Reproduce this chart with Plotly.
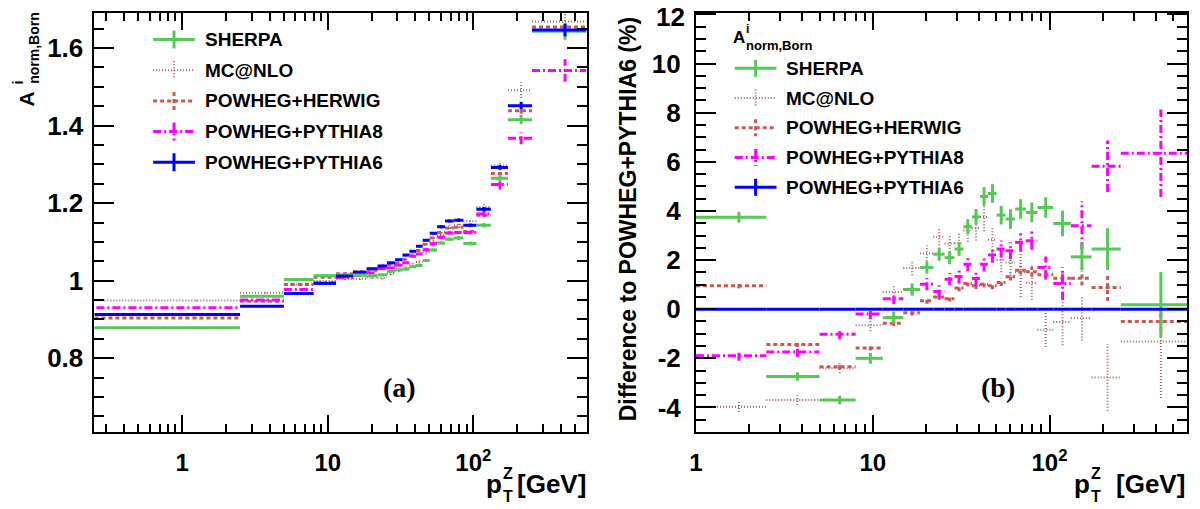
import math
import plotly.graph_objects as go

# ---------------- data ----------------
PT_EDGES = [0.0, 2.5, 5.0, 8.0, 11.4, 14.9, 18.5, 22.0, 25.5, 29.0, 32.6, 36.4, 40.4,
            44.9, 50.2, 56.4, 63.9, 73.4, 85.4, 105.0, 132.0, 173.0, 253.0, 600.0]
DIFF_FIRST_EDGE = 1.0  # first bin of panel (b) starts at 1 GeV

SERIES = ["SHERPA", "MC@NLO", "POWHEG+HERWIG", "POWHEG+PYTHIA8", "POWHEG+PYTHIA6"]

# panel (a): A^i_norm,Born
A_SHERPA = [0.879, 0.960, 1.003, 1.013, 1.015, 1.014, 1.013, 1.015, 1.024, 1.028, 1.030, 1.036,
            1.039, 1.052, 1.079, 1.097, 1.107, 1.110, 1.096, 1.143, 1.264, 1.415, 1.643]
A_MCNLO = [0.949, 0.969, 0.990, 0.999, 1.005, 1.005, 1.008, 1.007, 1.018, 1.026, 1.032, 1.040,
           1.048, 1.073, 1.100, 1.117, 1.137, 1.144, 1.153, 1.190, 1.297, 1.491, 1.668]
A_HERWIG = [0.904, 0.947, 0.990, 1.009, 1.018, 1.023, 1.027, 1.033, 1.041, 1.045, 1.055, 1.066,
            1.078, 1.094, 1.110, 1.124, 1.136, 1.138, 1.127, 1.169, 1.276, 1.438, 1.654]
A_PYTHIA8 = [0.930, 0.950, 0.977, 0.995, 1.008, 1.014, 1.020, 1.031, 1.033, 1.040, 1.046, 1.063,
             1.069, 1.080, 1.095, 1.112, 1.123, 1.124, 1.124, 1.172, 1.248, 1.367, 1.542]
A_PYTHIA6 = [0.913, 0.934, 0.967, 0.993, 1.012, 1.022, 1.031, 1.038, 1.046, 1.054, 1.066, 1.076,
             1.089, 1.104, 1.122, 1.139, 1.154, 1.156, 1.143, 1.184, 1.292, 1.451, 1.646]

A_ERR_SHERPA = [0.002, 0.002, 0.002, 0.002, 0.003, 0.003, 0.003, 0.003, 0.003, 0.003, 0.003, 0.003,
                0.004, 0.004, 0.004, 0.004, 0.004, 0.005, 0.005, 0.006, 0.008, 0.012, 0.022]
A_ERR_MCNLO = [0.002, 0.002, 0.002, 0.003, 0.003, 0.003, 0.003, 0.004, 0.004, 0.004, 0.005, 0.005,
               0.006, 0.006, 0.006, 0.006, 0.011, 0.008, 0.008, 0.011, 0.012, 0.020, 0.038]
A_ERR_HERWIG = [0.001, 0.001, 0.001, 0.001, 0.001, 0.001, 0.001, 0.001, 0.001, 0.001, 0.001, 0.001,
                0.001, 0.002, 0.002, 0.002, 0.002, 0.002, 0.002, 0.003, 0.004, 0.008, 0.007]
A_ERR_PYTHIA8 = [0.002, 0.002, 0.002, 0.002, 0.002, 0.002, 0.003, 0.003, 0.003, 0.003, 0.003, 0.003,
                 0.003, 0.004, 0.004, 0.004, 0.004, 0.004, 0.005, 0.008, 0.013, 0.015, 0.029]
A_ERR_PYTHIA6 = [0.002, 0.002, 0.002, 0.002, 0.002, 0.002, 0.002, 0.003, 0.003, 0.003, 0.003, 0.003,
                 0.003, 0.003, 0.003, 0.004, 0.004, 0.004, 0.004, 0.005, 0.006, 0.010, 0.016]

# panel (b): difference to POWHEG+PYTHIA6 (%)
D_SHERPA = [3.74, -2.74, -3.70, -2.00, -0.34, 0.80, 1.70, 2.24, 2.10, 2.45, 3.36, 3.76,
            4.59, 4.71, 3.83, 3.67, 4.08, 3.94, 4.14, 3.49, 2.13, 2.45, 0.18]
D_MCNLO = [-3.97, -3.70, -2.40, -0.65, 0.70, 1.68, 2.27, 2.95, 2.67, 2.70, 3.20, 3.30,
           3.75, 2.83, 2.00, 1.90, 1.50, 1.08, -0.84, -0.52, -0.37, -2.78, -1.32]
D_HERWIG = [0.95, -1.44, -2.34, -1.58, -0.57, -0.14, 0.34, 0.50, 0.43, 0.86, 1.05, 0.95,
            1.02, 0.95, 1.09, 1.32, 1.59, 1.52, 1.40, 1.26, 1.26, 0.88, -0.50]
D_PYTHIA8 = [-1.90, -1.74, -1.02, -0.20, 0.43, 0.80, 1.02, 0.72, 1.22, 1.33, 1.83, 1.25,
             1.83, 2.21, 2.45, 2.38, 2.72, 2.79, 1.70, 1.05, 3.40, 5.82, 6.35]
D_PYTHIA6 = [0.0, 0.0, 0.0, 0.0, 0.0, 0.0, 0.0, 0.0, 0.0, 0.0, 0.0, 0.0,
             0.0, 0.0, 0.0, 0.0, 0.0, 0.0, 0.0, 0.0, 0.0, 0.0, 0.0]

D_ERR_SHERPA = [0.22, 0.17, 0.17, 0.22, 0.24, 0.25, 0.25, 0.27, 0.27, 0.28, 0.30, 0.32,
                0.38, 0.38, 0.38, 0.40, 0.40, 0.40, 0.42, 0.52, 0.55, 0.85, 1.33]
D_ERR_MCNLO = [0.22, 0.20, 0.20, 0.25, 0.30, 0.30, 0.32, 0.35, 0.35, 0.40, 0.45, 0.50,
               0.58, 0.55, 0.50, 0.55, 1.00, 0.70, 0.70, 0.95, 0.90, 1.35, 2.30]
D_ERR_HERWIG = [0.10, 0.10, 0.10, 0.10, 0.12, 0.12, 0.12, 0.12, 0.12, 0.13, 0.13, 0.13,
                0.13, 0.14, 0.15, 0.15, 0.18, 0.20, 0.20, 0.25, 0.30, 0.55, 0.40]
D_ERR_PYTHIA8 = [0.20, 0.20, 0.20, 0.20, 0.22, 0.22, 0.25, 0.25, 0.25, 0.28, 0.28, 0.30,
                 0.30, 0.32, 0.35, 0.35, 0.37, 0.37, 0.45, 0.67, 1.00, 1.05, 1.78]
D_ERR_PYTHIA6 = [0.0] * 23

X_TICKS = [1, 10, 100]
X_TICK_TEXT = ["<b>1</b>", "<b>10</b>", "<b>10<sup>2</sup></b>"]
Y_TICKS_A = [0.8, 1.0, 1.2, 1.4, 1.6]
Y_TICK_TEXT_A = ["0.8", "1", "1.2", "1.4", "1.6"]
Y_TICKS_B = [-4, -2, 0, 2, 4, 6, 8, 10, 12]
Y_TICK_TEXT_B = ["-4", "-2", "0", "2", "4", "6", "8", "10", "12"]

# ---------------- style ----------------
W, H = 1200, 509
FONT = "Liberation Sans"
STYLE = {
    "SHERPA": dict(color="#55c855", dash="solid", width=3),
    "MC@NLO": dict(color="#9c6464", dash="1px,2px", width=2),
    "POWHEG+HERWIG": dict(color="#cc5555", dash="4px,3px", width=3),
    "POWHEG+PYTHIA8": dict(color="#ff00ff", dash="8px,3px,2px,3px", width=3),
    "POWHEG+PYTHIA6": dict(color="#0000ff", dash="solid", width=3),
}
A_DATA = {"SHERPA": (A_SHERPA, A_ERR_SHERPA), "MC@NLO": (A_MCNLO, A_ERR_MCNLO),
          "POWHEG+HERWIG": (A_HERWIG, A_ERR_HERWIG), "POWHEG+PYTHIA8": (A_PYTHIA8, A_ERR_PYTHIA8),
          "POWHEG+PYTHIA6": (A_PYTHIA6, A_ERR_PYTHIA6)}
D_DATA = {"SHERPA": (D_SHERPA, D_ERR_SHERPA), "MC@NLO": (D_MCNLO, D_ERR_MCNLO),
          "POWHEG+HERWIG": (D_HERWIG, D_ERR_HERWIG), "POWHEG+PYTHIA8": (D_PYTHIA8, D_ERR_PYTHIA8),
          "POWHEG+PYTHIA6": (D_PYTHIA6, D_ERR_PYTHIA6)}
DRAW_ORDER = ["MC@NLO", "POWHEG+HERWIG", "POWHEG+PYTHIA8", "SHERPA", "POWHEG+PYTHIA6"]


def fx(x):
    return x / W


def fy(y):
    return 1 - y / H


fig = go.Figure()


def add_hist(edges, vals, errs, st, xa, ya, lo_clip):
    hx, hy, vx, vy = [], [], [], []
    for i, (v, e) in enumerate(zip(vals, errs)):
        lo, hi = edges[i], edges[i + 1]
        c = 0.5 * (lo + hi)
        hx += [max(lo, lo_clip), hi, None]
        hy += [v, v, None]
        if e > 0:
            vx += [c, c, None]
            vy += [v - e, v + e, None]
    line = dict(color=st["color"], dash=st["dash"], width=st["width"])
    fig.add_trace(go.Scatter(x=hx, y=hy, mode="lines", line=line, xaxis=xa, yaxis=ya,
                             showlegend=False, hoverinfo="skip"))
    if vx:
        fig.add_trace(go.Scatter(x=vx, y=vy, mode="lines", line=line, xaxis=xa, yaxis=ya,
                                 showlegend=False, hoverinfo="skip"))


edges_b = [DIFF_FIRST_EDGE] + PT_EDGES[1:]
for name in DRAW_ORDER:
    v, e = A_DATA[name]
    add_hist(PT_EDGES, v, e, STYLE[name], "x", "y", 0.2)
for name in DRAW_ORDER:
    v, e = D_DATA[name]
    add_hist(edges_b, v, e, STYLE[name], "x2", "y2", 1.0)

shapes = []
annotations = []


def legend(x0, x1, xtext, y0, dy, half):
    for i, name in enumerate(SERIES):
        st = STYLE[name]
        y = y0 + i * dy
        line = dict(color=st["color"], dash=st["dash"], width=st["width"])
        shapes.append(dict(type="line", xref="paper", yref="paper", x0=fx(x0), x1=fx(x1),
                           y0=fy(y), y1=fy(y), line=line))
        xc = 0.5 * (x0 + x1)
        shapes.append(dict(type="line", xref="paper", yref="paper", x0=fx(xc), x1=fx(xc),
                           y0=fy(y - half), y1=fy(y + half), line=line))
        annotations.append(dict(text="<b>%s</b>" % name, xref="paper", yref="paper",
                                x=fx(xtext), y=fy(y), xanchor="left", yanchor="middle",
                                showarrow=False, font=dict(family=FONT, size=19, color="black")))


legend(147, 189, 197, 39.5, 30.7, 9)
legend(732, 774, 782, 68.3, 29.75, 8.5)


def ann(text, x, y, size, xanchor="center", yanchor="middle", angle=0, family=FONT):
    annotations.append(dict(text=text, xref="paper", yref="paper", x=fx(x), y=fy(y),
                            xanchor=xanchor, yanchor=yanchor, showarrow=False, textangle=angle,
                            font=dict(family=family, size=size, color="black")))


# right legend header A^i_norm,Born
ann("<b>A</b>", 728, 37.5, 17, xanchor="left")
ann("<b>i</b>", 741, 29, 12, xanchor="left")
ann("<b>norm,Born</b>", 741, 45, 13, xanchor="left")

# left y title (rotated)
ann("<b>A</b>", 20, 98.5, 21, angle=-90)
ann("<b>i</b>", 11.5, 82, 14, angle=-90)
ann("<b>norm,Born</b>", 27, 48, 14, angle=-90)

# right y title
ann("<b>Difference to POWHEG+PYTHIA6 (%)</b>", 625, 219, 23, angle=-90)

# top label of the right y axis (the axis itself hides labels at the page edge)
ann("<b>%s</b>" % Y_TICK_TEXT_B[-1], 684, 16.5, 26, xanchor="right")

# x titles
for pleft, right in [(480, 584), (1071, 1187)]:
    ann("<b>p</b>", pleft, 484, 26, xanchor="left")
    ann("<b>Z</b>", pleft + 17, 473, 16, xanchor="left")
    ann("<b>T</b>", pleft + 17, 496, 16, xanchor="left")
    ann("<b>[GeV]</b>", right, 484, 26, xanchor="right")

# panel labels
ann("<b>(a)</b>", 395, 387, 28, family="Liberation Serif")
ann("<b>(b)</b>", 997, 387, 28, family="Liberation Serif")

minor_a = [0.3, 0.4, 0.5, 0.6, 0.7, 0.8, 0.9] + [k for k in range(2, 10)] + \
          [10 * k for k in range(2, 10)] + [100 * k for k in range(2, 7)]
minor_b = [k for k in range(2, 10)] + [10 * k for k in range(2, 10)] + [100 * k for k in range(2, 7)]

xtickfont = dict(family=FONT, size=24, color="black", weight="bold")
ytickfont = dict(family=FONT, size=26, color="black", weight="bold")
common = dict(showgrid=False, zeroline=False, showline=True, linecolor="black", linewidth=2,
              mirror="ticks", ticks="inside", tickcolor="black", tickwidth=1.5)

fig.update_layout(
    width=W, height=H, autosize=False,
    margin=dict(l=0, r=0, t=0, b=0),
    paper_bgcolor="white", plot_bgcolor="white",
    showlegend=False,
    xaxis=dict(domain=[fx(88), fx(583)], type="log", anchor="y",
               range=[math.log10(0.25), math.log10(600)],
               tickmode="array", tickvals=X_TICKS, ticktext=X_TICK_TEXT, ticklen=17,
               ticklabelstandoff=8, tickfont=xtickfont,
               minor=dict(tickmode="array", tickvals=minor_a, ticklen=8, ticks="inside",
                          tickcolor="black", tickwidth=1.5),
               **common),
    yaxis=dict(domain=[fy(432), fy(13)], anchor="x", range=[0.61, 1.69],
               tickmode="array", tickvals=Y_TICKS_A, ticktext=Y_TICK_TEXT_A, ticklen=20,
               ticklabelstandoff=4, tickfont=ytickfont,
               minor=dict(dtick=0.05, tick0=0, ticklen=10, ticks="inside",
                          tickcolor="black", tickwidth=1.5),
               **common),
    xaxis2=dict(domain=[fx(693), fx(1187)], type="log", anchor="y2",
                range=[0, math.log10(600)],
                tickmode="array", tickvals=X_TICKS, ticktext=X_TICK_TEXT, ticklen=17,
                ticklabelstandoff=8, tickfont=xtickfont,
                minor=dict(tickmode="array", tickvals=minor_b, ticklen=8, ticks="inside",
                           tickcolor="black", tickwidth=1.5),
                **common),
    yaxis2=dict(domain=[fy(432), fy(13)], anchor="x2", range=[-5, 12.06],
                tickmode="array", tickvals=Y_TICKS_B, ticktext=Y_TICK_TEXT_B, ticklen=20,
                ticklabelstandoff=8, tickfont=ytickfont,
                minor=dict(dtick=0.5, tick0=0, ticklen=10, ticks="inside",
                           tickcolor="black", tickwidth=1.5),
                **common),
    shapes=shapes,
    annotations=annotations,
)

fig.write_html("out.html", config={"displayModeBar": False},
               post_script="document.body.style.margin='0px';")
